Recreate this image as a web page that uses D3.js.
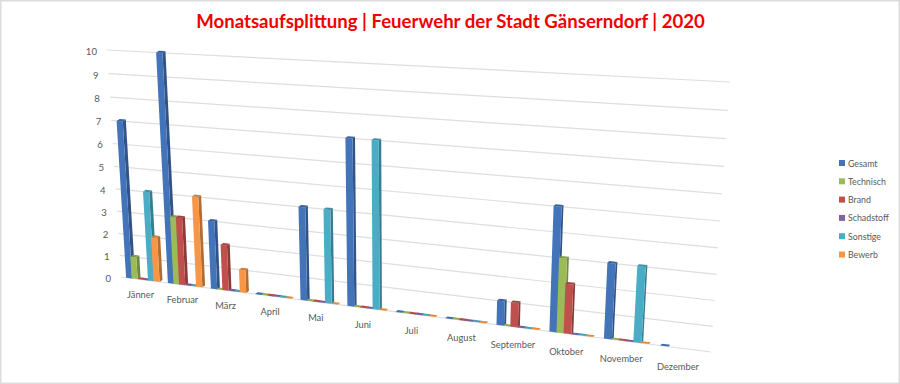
<!DOCTYPE html>
<html>
<head>
<meta charset="utf-8">
<script src="https://cdn.jsdelivr.net/npm/d3@7"></script>
<style>
  body { margin:0; background:#fff; }
  text { font-family:Lato,"Open Sans",sans-serif; fill:#595959; }
</style>
</head>
<body>
<svg id="chart" width="900" height="384" style="display:block"></svg>
<script>
const months = ["Jänner","Februar","März","April","Mai","Juni","Juli","August","September","Oktober","November","Dezember"];
const gesamt    = [7,10,3,0,4,7,0,0,1,5,3,0];
const technisch = [1,3,0,0,0,0,0,0,0,3,0,null];
const brand     = [0,3,2,0,0,0,0,0,1,2,0,null];
const schadstoff= [0,0,0,0,0,0,0,0,0,0,0,null];
const sonstige  = [4,0,0,0,4,7,0,0,0,0,3,null];
const bewerb    = [2,4,1,0,0,0,0,0,0,0,0,null];
const seriesNames = ["Gesamt","Technisch","Brand","Schadstoff","Sonstige","Bewerb"];
const seriesValues = [gesamt,technisch,brand,schadstoff,sonstige,bewerb];
const colors = ["#4373b8","#9bbb59","#c0504d","#8064a2","#4bacc6","#f79646"];
const yTicks = d3.range(0,11);

const svg = d3.select("#chart");

// frame round the picture
svg.append("rect").attr("x",0.75).attr("y",0.75).attr("width",898.5).attr("height",382.5)
  .style("fill","none").style("stroke","#dcdcdc").style("stroke-width",1.5);

// the tilted wall: unit square -> four corners
const corners = [[121,277],[711,352],[730,82],[107,50]];
const project = (function() {
  let [p0,p1,p2,p3] = corners;
  let dx1=p1[0]-p2[0], dx2=p3[0]-p2[0], sx=p0[0]-p1[0]+p2[0]-p3[0];
  let dy1=p1[1]-p2[1], dy2=p3[1]-p2[1], sy=p0[1]-p1[1]+p2[1]-p3[1];
  let den=dx1*dy2-dx2*dy1;
  let g=(sx*dy2-dx2*sy)/den, h=(dx1*sy-sx*dy1)/den;
  let a=p1[0]-p0[0]+g*p1[0], b=p3[0]-p0[0]+h*p3[0];
  let d=p1[1]-p0[1]+g*p1[1], e=p3[1]-p0[1]+h*p3[1];
  return (u,v) => {
    let w=g*u+h*v+1;
    return [(a*u+b*v+p0[0])/w, (d*u+e*v+p0[1])/w];
  };
})();

const x = d3.scaleBand().domain(months).range([0,1]);
const y = d3.scaleLinear().domain([0,10]).range([0,1]);
const slot = x.bandwidth()/7.6;
const seriesX = d3.scaleLinear().domain([0,6]).range([slot*0.95,slot*6.95]);
const depthX = d3.scaleLinear().domain([0,1]).range([3,1.6]);
const labelDx = d3.scaleLinear().domain([0,1]).range([1,-2]);
const labelDy = d3.scaleLinear().domain([0,1]).range([18,21.5]);
const poly = pts => pts.map(p => p.map(n => n.toFixed(1)).join(",")).join(" ");

// title
svg.append("text").attr("x",450.5).attr("y",27.5)
  .attr("text-anchor","middle")
  .style("font-size","18.6px").style("font-weight","700").style("fill","#f00000")
  .text("Monatsaufsplittung | Feuerwehr der Stadt Gänserndorf | 2020");

// gridlines
svg.append("g").selectAll("line").data(yTicks).enter().append("line")
  .attr("x1",d=>project(0,y(d))[0]).attr("y1",d=>project(0,y(d))[1])
  .attr("x2",d=>project(1,y(d))[0]).attr("y2",d=>project(1,y(d))[1])
  .style("stroke","#dedede").style("stroke-width",1.2);

// value labels
svg.append("g").selectAll("text").data(yTicks).enter().append("text")
  .attr("x",d=>project(0,y(d))[0]-10).attr("y",d=>project(0,y(d))[1]+5)
  .attr("text-anchor","end").style("font-size","9.6px")
  .text(d=>d);

// month labels
svg.append("g").selectAll("text").data(months).enter().append("text")
  .attr("x",d=>{ let u=x(d)+x.bandwidth()/2; return project(u,0)[0]-2+labelDx(u); })
  .attr("y",d=>{ let u=x(d)+x.bandwidth()/2; return project(u,0)[1]+labelDy(u); })
  .attr("text-anchor","middle").style("font-size","9.3px")
  .text(d=>d);

// bars
const bars = [];
seriesValues.forEach((vals,s) => vals.forEach((v,m) => {
  if (v !== null) bars.push({s:s, m:m, v:v});
}));
const gBars = svg.append("g").selectAll("g").data(bars).enter().append("g");
gBars.each(function(d) {
  let G = d3.select(this);
  let u0 = x(months[d.m])+seriesX(d.s), u1 = u0+slot*1.1;
  let a = project(u0,0), b = project(u1,0), c = project(u1,y(d.v)), e = project(u0,y(d.v));
  let dx = depthX(u1), dy = -1.8;
  let off = p => [p[0]+dx,p[1]+dy];
  if (d.v > 0) {
    G.append("polygon").attr("points",poly([b,off(b),off(c),c]))
      .style("fill",d3.color(colors[d.s]).darker(0.9));
    G.append("polygon").attr("points",poly([a,b,c,e]))
      .style("fill",colors[d.s]);
  }
  G.append("polygon").attr("points",poly([e,c,off(c),off(e)]))
    .style("fill",d3.color(colors[d.s]).darker(d.v > 0 ? 0.5 : 0.2));
});

// legend
const legend = svg.append("g").selectAll("g").data(seriesNames).enter().append("g")
  .attr("transform",(d,i)=>"translate(839,"+(160+i*18.3)+")");
legend.append("rect").attr("width",6).attr("height",6)
  .style("fill",(d,i)=>colors[i]);
legend.append("text").attr("x",9).attr("y",6.5).style("font-size","8.8px").text(d=>d);
</script>
</body>
</html>
